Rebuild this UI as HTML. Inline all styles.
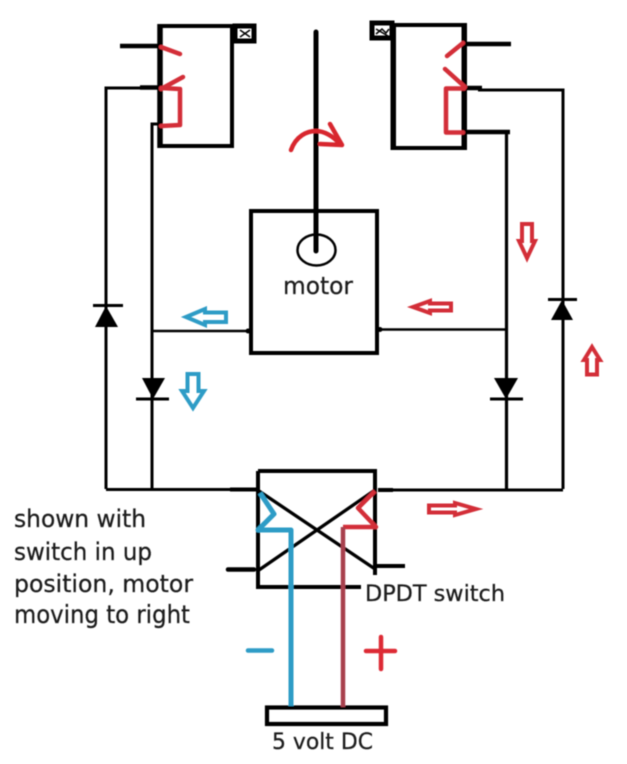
<!DOCTYPE html>
<html><head><meta charset="utf-8"><style>
html,body{margin:0;padding:0;background:#fff}
svg{display:block;width:627px;height:764px}
text{font-family:"DejaVu Sans",sans-serif;fill:#1a1a1a;stroke:#1a1a1a;stroke-width:.25px}
</style></head><body>
<svg width="627" height="764" viewBox="0 0 627 764" xmlns="http://www.w3.org/2000/svg">
<defs><filter id="b" x="-2%" y="-2%" width="104%" height="104%"><feGaussianBlur stdDeviation="0.6"/></filter></defs>
<rect width="627" height="764" fill="#fff"/>
<g filter="url(#b)" fill="none" stroke-linecap="butt">
<!-- left relay -->
<g stroke="#000">
<path d="M160 26H232V146H160Z" stroke-width="4"/>
<path d="M160 24V148" stroke-width="5.500"/>
<rect x="235" y="26" width="19" height="15" stroke-width="5"/>
<path d="M240 30L250 37M250 30L240 37" stroke-width="1.5"/>
<path d="M120 46H160" stroke-width="4.500"/>
<path d="M106 489V88H140" stroke-width="3"/>
<path d="M140 87.500H160" stroke-width="4.500"/>
<path d="M152 489V124H160" stroke-width="3"/>
</g>
<g stroke="#d32f38" stroke-width="4.500" stroke-linecap="round" stroke-linejoin="round">
<path d="M161 47L180 54"/>
<path d="M161 89L183 77"/>
<path d="M161 88L180 89V125L161 126"/>
</g>
<!-- right relay -->
<g stroke="#000">
<path d="M394 25H465V148H394Z" stroke-width="4"/>
<path d="M393 40V150M464 25V150" stroke-width="5"/>
<rect x="372" y="23" width="20" height="15" stroke-width="5"/>
<path d="M376 34L382 29L386 33L389 29M376 29L388 36" stroke-width="1.5"/>
<path d="M465 44H511" stroke-width="4.500"/>
<path d="M465 88H482" stroke-width="4.500"/>
<path d="M478 90H563V489" stroke-width="3"/>
<path d="M465 132H510" stroke-width="4.500"/>
<path d="M506.500 132V489" stroke-width="3.200"/>
</g>
<g stroke="#d32f38" stroke-width="4.500" stroke-linecap="round" stroke-linejoin="round">
<path d="M463 43L447 56"/>
<path d="M445 69L465 87"/>
<path d="M464 88.500H446V132.500H463"/>
</g>
<!-- motor -->
<g stroke="#000">
<rect x="251" y="211" width="126" height="142" stroke-width="4"/>
<path d="M316 32V251" stroke-width="5" stroke-linecap="round"/>
<ellipse cx="316.500" cy="250" rx="19" ry="15.500" stroke-width="2.500"/>
<path d="M152 331H251M377 329.500H506" stroke-width="2.600"/>
<circle cx="248" cy="331" r="2.500" fill="#000" stroke="none"/>
<circle cx="380" cy="329.500" r="2.500" fill="#000" stroke="none"/>
</g>
<!-- curved arrow -->
<path d="M291 150C296 136 307 131 316 131C324 131 333 136 340 144" stroke="#d8262f" stroke-width="4.500" stroke-linecap="round"/>
<path d="M330 124L342 145L320 144" stroke="#d8262f" stroke-width="4.500" stroke-linejoin="round" stroke-linecap="round"/>
<!-- diodes -->
<g stroke="#000" stroke-width="3">
<path d="M93 305.500H123M136 399H169M490 399H523M548 299.500H577"/>
</g>
<g fill="#000">
<path d="M106 306L118 327H95Z"/>
<path d="M142 378H165L153 399Z"/>
<path d="M494 378H518L506 399Z"/>
<path d="M562 300L573 320H551Z"/>
</g>
<!-- bottom wires -->
<g stroke="#000">
<path d="M106 489.500H258M378 490H563" stroke-width="3"/>
<path d="M230 489.500H258M378 490H393" stroke-width="4"/>
<!-- switch -->
<path d="M258 471H375V575M375 471V490M258 471V587H361" stroke-width="4"/>
<path d="M259 491L375 569M259 570L375 490" stroke-width="3.300"/>
<path d="M228 569.500H254" stroke-width="4.500" stroke-linecap="round"/>
<path d="M377 566H405" stroke-width="4"/>
<!-- battery -->
<rect x="267" y="707.500" width="119" height="16.500" stroke-width="4.200"/>
</g>
<!-- switch feeds -->
<path d="M260 493L274 514L258 530H291V706" stroke="#2e9cc6" stroke-width="5" stroke-linejoin="round"/>
<path d="M375 491L358 508L376 527H343" stroke="#d32f38" stroke-width="4.500" stroke-linejoin="round"/>
<path d="M343 527V707" stroke="#a83f4e" stroke-width="4.500"/>
<!-- signs -->
<path d="M248 650.500H272" stroke="#2e9cc6" stroke-width="4.500" stroke-linecap="round"/>
<path d="M366 651H395M381 637V669" stroke="#dd2a35" stroke-width="4.500" stroke-linecap="round"/>
<!-- outline arrows -->
<g stroke-width="4" stroke-linejoin="miter">
<path d="M186 317L205 309V312.500H226V322H205V325Z" stroke="#2e9cc6"/>
<path d="M187.500 374H198.500V391H204L193 408L182 391H187.500Z" stroke="#2e9cc6"/>
<path d="M413 307L430 301V303.500H451V310.500H430V313Z" stroke="#d32f38"/>
<path d="M522 224H532V241H535L527 258L519 241H522Z" stroke="#d32f38"/>
<path d="M592 347L600 360H597V374.500H587V360H584Z" stroke="#d32f38"/>
<path d="M429 505.500H455V503L476 509L455 515V512.500H429Z" stroke="#d32f38"/>
</g>
<!-- text -->
<g>
<text x="283" y="294" font-size="24" textLength="70" lengthAdjust="spacingAndGlyphs">motor</text>
<text x="14" y="527" font-size="24" textLength="132" lengthAdjust="spacingAndGlyphs">shown with</text>
<text x="14" y="560" font-size="24" textLength="138" lengthAdjust="spacingAndGlyphs">switch in up</text>
<text x="14" y="592" font-size="24" textLength="179" lengthAdjust="spacingAndGlyphs">position, motor</text>
<text x="14" y="623" font-size="25" textLength="176" lengthAdjust="spacingAndGlyphs">moving to right</text>
<text x="365" y="601" font-size="22" textLength="140" lengthAdjust="spacingAndGlyphs">DPDT switch</text>
<text x="272" y="749" font-size="22" textLength="101" lengthAdjust="spacingAndGlyphs">5 volt DC</text>
</g>
</g>
</svg>
</body></html>
